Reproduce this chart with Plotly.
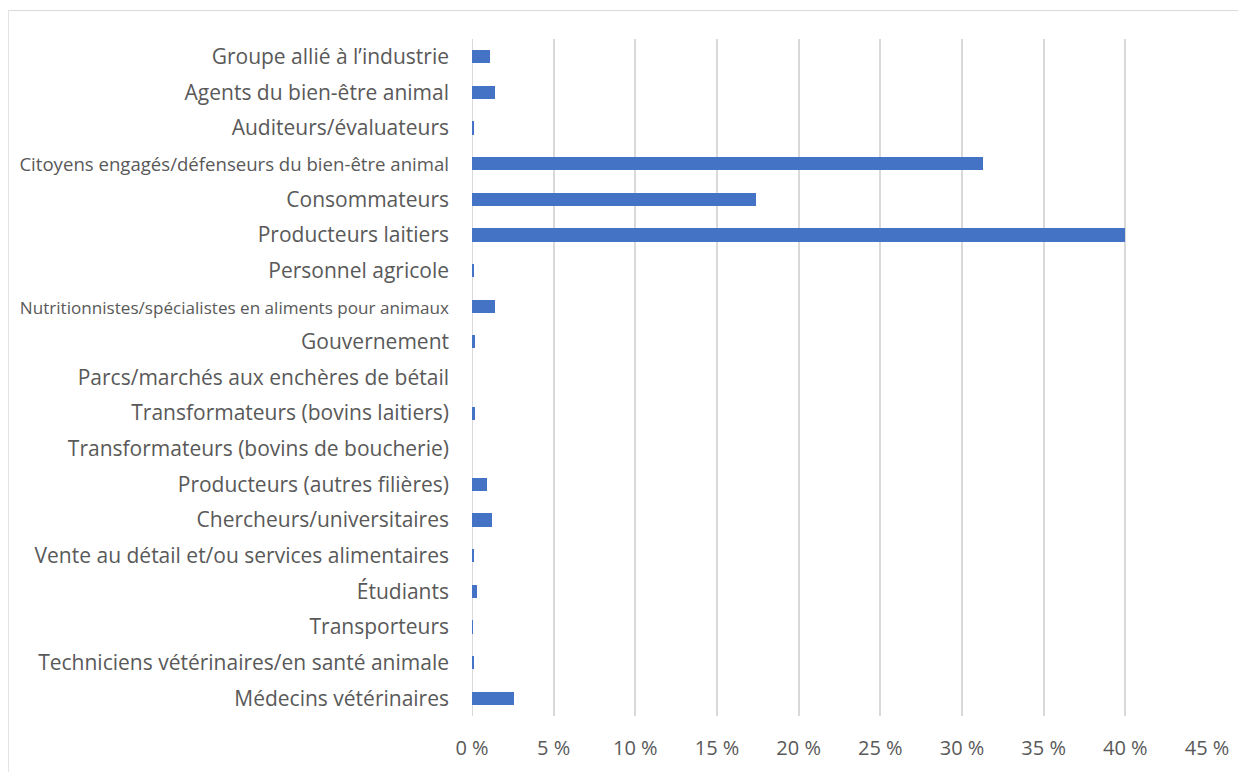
import plotly.graph_objects as go

categories = [
    "Groupe allié à l’industrie",
    "Agents du bien-être animal",
    "Auditeurs/évaluateurs",
    "Citoyens engagés/défenseurs du bien-être animal",
    "Consommateurs",
    "Producteurs laitiers",
    "Personnel agricole",
    "Nutritionnistes/spécialistes en aliments pour animaux",
    "Gouvernement",
    "Parcs/marchés aux enchères de bétail",
    "Transformateurs (bovins laitiers)",
    "Transformateurs (bovins de boucherie)",
    "Producteurs (autres filières)",
    "Chercheurs/universitaires",
    "Vente au détail et/ou services alimentaires",
    "Étudiants",
    "Transporteurs",
    "Techniciens vétérinaires/en santé animale",
    "Médecins vétérinaires",
]
values = [1.1, 1.4, 0.1, 31.3, 17.4, 40.0, 0.1, 1.4, 0.2, 0.0, 0.2, 0.0,
          0.9, 1.2, 0.1, 0.3, 0.02, 0.1, 2.6]
label_sizes = {
    "Citoyens engagés/défenseurs du bien-être animal": 18.6,
    "Nutritionnistes/spécialistes en aliments pour animaux": 17.1,
}
x_ticks = [0, 5, 10, 15, 20, 25, 30, 35, 40, 45]
x_ticklabels = [f"{v} %" for v in x_ticks]

ticktext = [
    (f'<span style="font-size:{label_sizes[c]}px">{c}</span>' if c in label_sizes else c)
    for c in categories
]

fig = go.Figure(go.Bar(
    y=list(range(len(categories))),
    x=values,
    orientation="h",
    marker=dict(color="#4472C4", line=dict(width=0)),
    width=0.37,
))

fig.update_layout(
    width=1238, height=764,
    margin=dict(l=464, r=39, t=31, b=56, autoexpand=False),
    paper_bgcolor="white", plot_bgcolor="white",
    font=dict(family="Open Sans, Liberation Sans, sans-serif", color="#595959", size=21),
    showlegend=False,
    bargap=0,
)
fig.update_xaxes(
    range=[0, 45], tickvals=x_ticks, ticktext=x_ticklabels,
    showgrid=True, gridcolor="#d9d9d9", gridwidth=2,
    zeroline=False, showline=False, ticks="",
    tickfont=dict(size=20, color="#595959"),
    ticklabelstandoff=18, automargin=False,
)
fig.update_yaxes(
    range=[len(categories) - 0.5, -0.5],
    tickvals=list(range(len(categories))), ticktext=ticktext,
    showgrid=False, zeroline=False, showline=False, ticks="",
    tickfont=dict(size=21, color="#595959"),
    ticklabelstandoff=22, automargin=False,
)
fig.add_shape(type="line", xref="x", yref="paper", x0=0, x1=0, y0=0, y1=1,
              line=dict(color="#d9d9d9", width=2), layer="below")
fig.add_shape(type="rect", xref="paper", yref="paper",
              x0=-0.631, x1=1.3, y0=-0.3, y1=1.042,
              line=dict(color="#d9d9d9", width=1))

fig.write_html("out.html")
